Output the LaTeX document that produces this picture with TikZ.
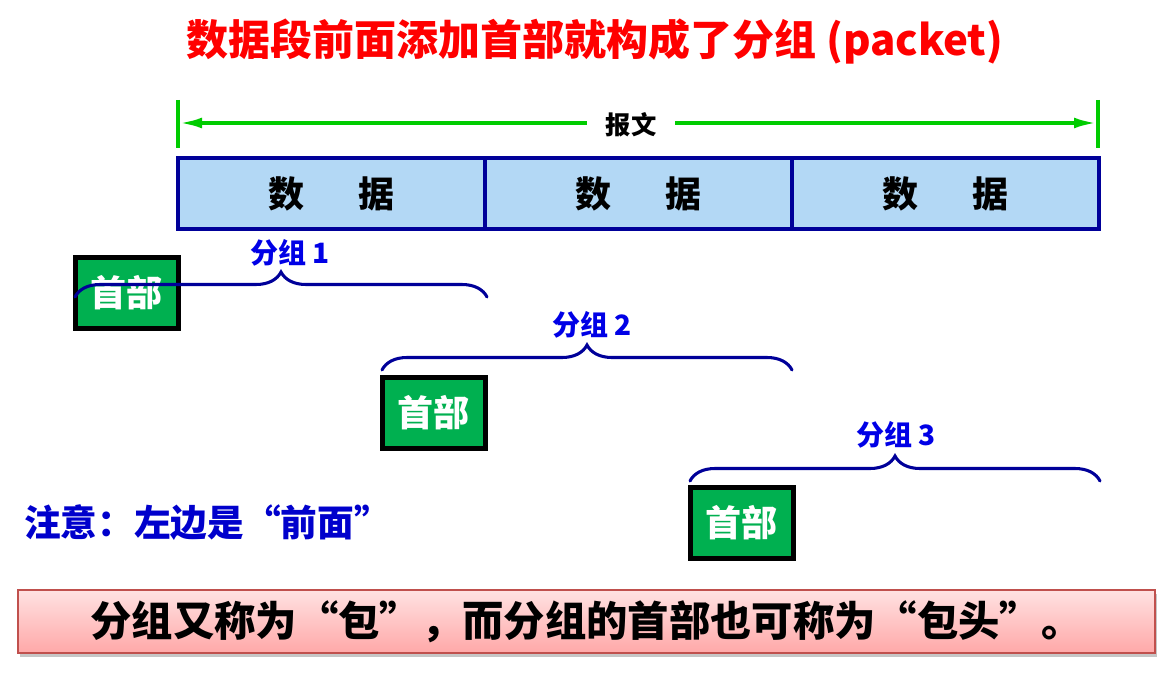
\documentclass[tikz,border=0pt]{standalone}
\usepackage{fontspec}
\setmainfont{Noto Sans CJK SC}
\usetikzlibrary{decorations.pathreplacing,arrows.meta,shadows}
\definecolor{titlered}{HTML}{FF0000}
\definecolor{lineblue}{HTML}{000099}
\definecolor{boxfill}{HTML}{B3D8F5}
\definecolor{lblue}{HTML}{0000E6}
\definecolor{noteblue}{HTML}{0000CC}
\definecolor{linegreen}{HTML}{00CC00}
\definecolor{hdrgreen}{HTML}{00B050}
\definecolor{pinktop}{HTML}{FFE2E2}
\definecolor{pinkbot}{HTML}{FFA8A8}
\definecolor{pinkedge}{HTML}{C0504D}
\tikzset{
  databox/.style={draw=lineblue, line width=3pt, fill=boxfill, minimum width=230.25pt, minimum height=53.25pt, inner sep=0pt, font=\fontsize{27}{30}\selectfont\bfseries},
  hdrbox/.style={draw=black, line width=3.75pt, fill=hdrgreen, text=white, minimum width=77.25pt, minimum height=53.25pt, inner sep=0pt, font=\fontsize{27}{30}\selectfont\bfseries},
  grp/.style={text=lblue, font=\fontsize{21}{24}\selectfont\bfseries, inner sep=0pt},
  curly/.style={draw=lineblue, line width=2.3pt, line cap=round, decorate, decoration={brace, amplitude=18.75pt}},
  msgline/.style={draw=linegreen, line width=3pt},
}
\begin{document}
\begin{tikzpicture}[x=0.75pt,y=-0.75pt]
\useasboundingbox (0,0) rectangle (1162,681);
% title
\node[text=titlered, font=\fontsize{31.5}{34}\selectfont\bfseries, inner sep=0pt] (title) at (595,42) {数据段前面添加首部就构成了分组 (packet)};
% message arrow
\coordinate (Lt) at (178,100); \coordinate (Lb) at (178,148);
\coordinate (Rt) at (1098,100); \coordinate (Rb) at (1098,148);
\coordinate (L) at (178,123); \coordinate (R) at (1098,123);
\draw[msgline] (Lt) -- (Lb);
\draw[msgline] (Rt) -- (Rb);
\draw[msgline, {Latex[length=18pt,width=8pt]}-{Latex[length=18pt,width=8pt]}] (L) -- (R);
\node[fill=white, inner xsep=14pt, inner ysep=2pt, font=\fontsize{19}{22}\selectfont\bfseries] (msg) at (631,125) {报文};
% data boxes
\node[databox] (d1) at (331.5,193.5) {数\hspace{1.5em}据};
\node[databox] (d2) at (638.5,193.5) {数\hspace{1.5em}据};
\node[databox] (d3) at (945.5,193.5) {数\hspace{1.5em}据};
% headers
\node[hdrbox] (h1) at (126.5,292.5) {首部};
\node[hdrbox] (h2) at (433.5,412.5) {首部};
\node[hdrbox] (h3) at (741.5,522.5) {首部};
% braces
\coordinate (b1l) at (75,297); \coordinate (b1r) at (487,297);
\coordinate (b2l) at (382,370); \coordinate (b2r) at (792,370);
\coordinate (b3l) at (690,481); \coordinate (b3r) at (1100,481);
\draw[curly] (b1l) -- (b1r);
\draw[curly] (b2l) -- (b2r);
\draw[curly] (b3l) -- (b3r);
\node[grp] (g1) at (290,253) {分组 1};
\node[grp] (g2) at (592,325) {分组 2};
\node[grp] (g3) at (896,435) {分组 3};
% note
\node[text=noteblue, anchor=west, inner sep=0pt, font=\fontsize{27.5}{30}\selectfont\bfseries] (note) at (24,523) {注意：左边是“前面”};
% bottom box
\node[draw=pinkedge, line width=1.5pt, top color=pinktop, bottom color=pinkbot, minimum width=852.75pt, minimum height=47.25pt, inner sep=0pt,
  drop shadow={opacity=0.45, shadow xshift=1.5pt, shadow yshift=-3pt, fill=gray},
  font=\fontsize{31}{34}\selectfont\bfseries] (bottom) at (586.5,621.5) {分组又称为“包”，而分组的首部也可称为“包头”。};
\end{tikzpicture}
\end{document}
